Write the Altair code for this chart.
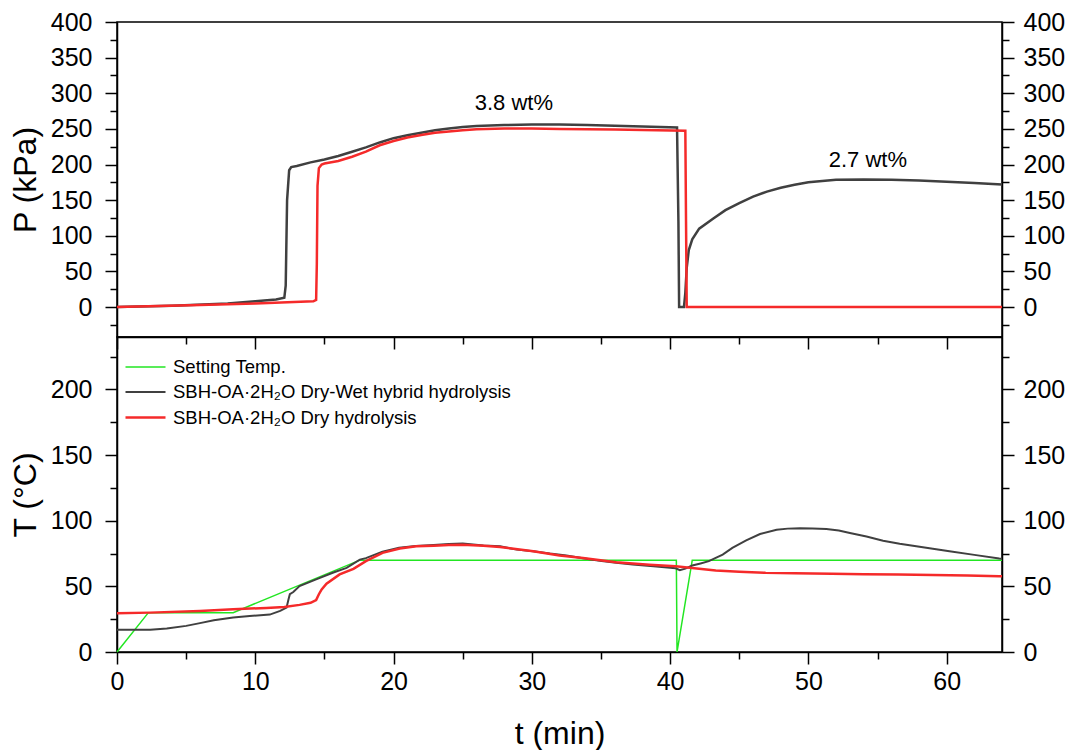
import altair as alt
import pandas as pd

# ---------------- data ----------------
# Top panel: pressure (kPa)
p_dw_t = [0, 4, 8, 10, 11.5, 12.1, 12.2, 12.3, 12.45, 12.6, 13, 14, 15, 16, 17, 18, 19, 20, 21, 22,
          23, 24, 25, 26, 28, 30, 32, 34, 36, 38, 40.5, 40.6, 40.65, 41.0, 41.1, 41.2, 41.35, 41.6, 42.1, 43.1,
          44, 45, 46, 47, 48, 49, 50, 51, 52, 54, 56, 58, 60, 62, 64]
p_dw_v = [0, 2, 5, 8, 10.5, 13, 30, 150, 192, 196.5, 198, 203, 207, 212, 218, 224, 231, 237, 241, 244.5,
          248, 250.5, 252.5, 254, 255.5, 256, 256, 255.5, 254.5, 253.5, 252, 120, 0, 0, 20, 55, 80, 95, 110, 124,
          136, 146, 155, 162, 167.5, 171.5, 175, 177, 178.5, 179, 178.5, 177.5, 176, 174, 172]

p_dry_t = [0, 6, 10, 14.2, 14.4, 14.45, 14.5, 14.6, 14.8, 15, 16, 17, 18, 19, 20, 21, 22, 23, 24, 25,
           26, 28, 30, 32, 34, 36, 38, 41.1, 41.15, 41.2, 64]
p_dry_v = [0, 3, 5, 8, 10, 60, 170, 195, 200, 201.5, 205, 211, 218, 227, 233, 238, 241.5, 244.5, 246.5, 248,
           249.5, 250.5, 250.5, 250, 249.5, 249, 248.5, 247.5, 120, 0, 0]

# Bottom panel: temperature (°C)
set_t = [0, 2.27, 8.4, 17.56, 40.45, 40.5, 41.6, 64]
set_v = [0, 30, 30, 70, 70, 0, 70, 70]

t_dw_t = [0, 2.4, 3.6, 5, 6, 7, 8.4, 9.6, 11.05, 11.8, 12.26, 12.4, 12.5, 12.75, 13.2, 14.4, 15.6, 16.6, 17.56, 18,
          19.2, 20.4, 21.6, 22.9, 24, 25, 26.5, 27.7, 28.9, 30.1, 31.3, 32.5, 33.7, 34.9, 36.1, 37.3, 38.8, 40.4, 40.7, 41.1,
          41.6, 42.2, 42.8, 43.8, 44.5, 45.5, 46.5, 47.7, 48.5, 49.4, 50.3, 51.3, 52.2, 53, 54.2, 55.4, 56.6, 57.8, 59, 60.2,
          62, 63.8, 64]
t_dw_v = [16.9, 16.9, 17.9, 19.9, 22, 24.2, 26.3, 27.5, 28.5, 31.3, 33.8, 40, 44, 45.7, 50.2, 55.3, 60.4, 64.1, 70.4, 71.5,
          76.5, 79.5, 80.8, 81.5, 82.3, 82.6, 81.2, 80.5, 78, 76.8, 75, 73.5, 71.5, 69.5, 68, 66.7, 65.3, 63.8, 62.3, 63.5,
          65.9, 67.5, 69.2, 74.2, 79.3, 85, 89.9, 93.2, 94, 94.2, 94.1, 93.7, 92.5, 90.7, 88, 84.8, 82.5, 80.5, 78.7, 76.8,
          74, 71.2, 71]

t_dry_t = [0, 2.4, 6, 8.4, 10.8, 12.1, 13.2, 14.0, 14.4, 14.6, 14.8, 15.15, 16.1, 17.1, 18, 19.2, 20.45, 21.65, 22.9, 24,
           25, 26.5, 27.7, 30.1, 32, 33.7, 36.1, 38.5, 40.4, 42.1, 43.3, 45, 46.9, 49, 51.7, 54, 56.5, 59, 61.5, 63.8, 64]
t_dry_v = [29.5, 30, 31.3, 32.6, 33.6, 34.3, 35.9, 37.5, 39.6, 44, 47.7, 52, 59.1, 63.4, 69.2, 75.5, 78.8, 80.5, 81, 81.5,
           81.8, 81, 80, 76.8, 73.5, 71.7, 68.4, 66.5, 65.3, 63.4, 62.1, 61.2, 60.3, 60, 59.6, 59.3, 59.1, 58.6, 58.2, 57.8, 57.7]

series_names = ["Setting Temp.",
                "SBH-OA\u00b72H\u2082O Dry-Wet hybrid hydrolysis",
                "SBH-OA\u00b72H\u2082O Dry hydrolysis"]
series_colors = ["#22e622", "#404040", "#f52a2a"]
series_widths = [1.5, 2.5, 2.5]

ann_t = [28.7, 54.3]
ann_p = [287, 207]
ann_text = ["3.8 wt%", "2.7 wt%"]

x_ticks = list(range(0, 65, 5))
p_ticks = list(range(-25, 401, 25))
t_ticks = list(range(0, 226, 25))

# ---------------- frames ----------------
df_p_dw = pd.DataFrame({"t": p_dw_t, "v": p_dw_v, "i": range(len(p_dw_t))})
df_p_dry = pd.DataFrame({"t": p_dry_t, "v": p_dry_v, "i": range(len(p_dry_t))})
df_ann = pd.DataFrame({"t": ann_t, "v": ann_p, "text": ann_text})

rows = []
for name, ts, vs in [(series_names[0], set_t, set_v),
                     (series_names[1], t_dw_t, t_dw_v),
                     (series_names[2], t_dry_t, t_dry_v)]:
    for k, (a, b) in enumerate(zip(ts, vs)):
        rows.append({"series": name, "t": a, "v": b, "i": k})
df_t = pd.DataFrame(rows)

FONT = "Liberation Sans"
W, H = 885, 315
X_DOM = [0, 64]
P_DOM = [-42, 400]
T_DOM = [0, 240]
RED = series_colors[2]
BLACK = series_colors[1]

def major(step, big, small):
    return {"condition": {"test": f"datum.value % {step} === 0", "value": big}, "value": small}

def yaxis(orient, title, values):
    kw = dict(orient=orient, values=values, tickSize=major(50, 12, 7),
              labelExpr="datum.value % 50 === 0 ? datum.label : ''",
              labelOverlap=False, labelFontSize=25,
              labelPadding=13 if orient == "left" else 9,
              titleFontSize=32, titlePadding=8, grid=False)
    kw["title"] = title if title else ""
    return alt.Axis(**kw)

x_axis_top = alt.Axis(values=x_ticks, tickSize=major(10, 12, 7), labels=False, title="", grid=False)
x_axis_bot = alt.Axis(values=x_ticks, tickSize=major(10, 12, 7),
                      labelExpr="datum.value % 10 === 0 ? datum.label : ''",
                      labelOverlap=False, labelFlush=False, labelFontSize=25, labelPadding=5,
                      title="t (min)", titleFontSize=32, titlePadding=24, grid=False)

xs = alt.Scale(domain=X_DOM, nice=False, zero=False)
ps = alt.Scale(domain=P_DOM, nice=False, zero=False)
ts_ = alt.Scale(domain=T_DOM, nice=False, zero=False)

# ---------------- top panel ----------------
top_black = alt.Chart(df_p_dw).mark_line(color=BLACK, strokeWidth=2.5).encode(
    x=alt.X("t:Q", scale=xs, axis=x_axis_top),
    y=alt.Y("v:Q", scale=ps, axis=yaxis("left", "P (kPa)", p_ticks)),
    order="i:Q")
top_red = alt.Chart(df_p_dry).mark_line(color=RED, strokeWidth=2.5).encode(
    x=alt.X("t:Q", scale=xs, axis=x_axis_top),
    y=alt.Y("v:Q", scale=ps, axis=yaxis("right", None, p_ticks)),
    order="i:Q")
top_text = alt.Chart(df_ann).mark_text(font=FONT, fontSize=22, color="black").encode(
    x=alt.X("t:Q", scale=xs, axis=x_axis_top),
    y=alt.Y("v:Q", scale=ps, axis=None),
    text="text:N")
top = alt.layer(top_black, top_red, top_text).resolve_scale(y="independent").properties(width=W, height=H)

# ---------------- bottom panel ----------------
leg = alt.Legend(orient="none", legendX=17, legendY=19, title=None,
                 symbolType="M-2,0L2,0", symbolSize=400,
                 labelFont=FONT, labelFontSize=18.5, labelColor="black",
                 labelOffset=16, rowPadding=4, padding=0, labelLimit=800)
bot_lines = alt.Chart(df_t).mark_line().encode(
    x=alt.X("t:Q", scale=xs, axis=x_axis_bot),
    y=alt.Y("v:Q", scale=ts_, axis=yaxis("left", "T (\u00b0C)", t_ticks)),
    color=alt.Color("series:N", scale=alt.Scale(domain=series_names, range=series_colors), legend=leg),
    strokeWidth=alt.StrokeWidth("series:N", scale=alt.Scale(domain=series_names, range=series_widths), legend=leg),
    order="i:Q")
bot_right = alt.Chart(df_t).mark_line(strokeOpacity=0).encode(
    x=alt.X("t:Q", scale=xs, axis=x_axis_bot),
    y=alt.Y("v:Q", scale=ts_, axis=yaxis("right", None, t_ticks)),
    detail="series:N",
    order="i:Q")
bottom = alt.layer(bot_lines, bot_right).resolve_scale(y="independent").properties(width=W, height=H)

chart = alt.vconcat(top, bottom, spacing=0, bounds="flush").resolve_scale(
    color="independent", strokeWidth="independent").resolve_legend(
    color="independent", strokeWidth="independent").properties(
    padding={"left": 0, "top": 1, "right": 0, "bottom": 0}, background="white"
).configure_axis(
    labelFont=FONT, titleFont=FONT, labelColor="black", titleColor="black",
    domainColor="black", tickColor="black", domainWidth=1.5, tickWidth=1.5,
    titleFontWeight="normal"
).configure_view(stroke="black", strokeWidth=1.5)

chart.save("out.html", embed_options={"renderer": "svg", "actions": False})
